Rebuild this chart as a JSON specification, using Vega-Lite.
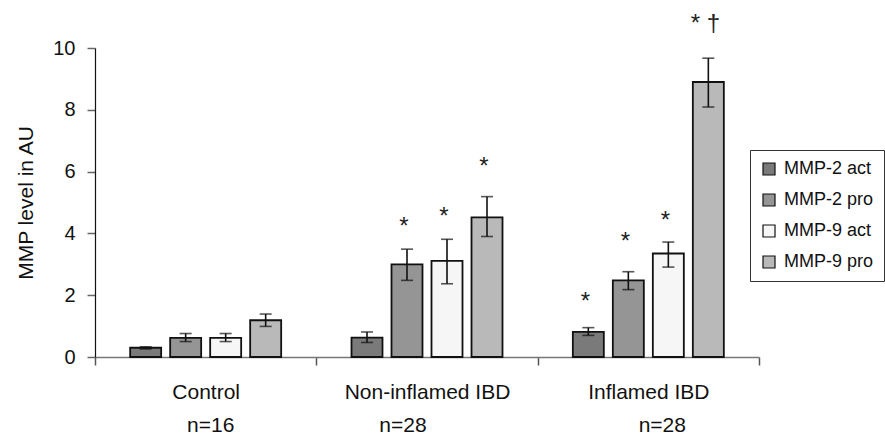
{
  "$schema": "https://vega.github.io/schema/vega-lite/v6.json",
  "width": 664,
  "height": 309,
  "autosize": {"type": "none"},
  "padding": {"left": 95, "top": 48, "right": 126, "bottom": 78},
  "background": "white",
  "config": {
    "view": {"stroke": null},
    "font": "Liberation Sans",
    "text": {"font": "Liberation Sans", "color": "#111111"}
  },
  "datasets": {
    "bars": [
      {"group": "Control", "series": "MMP-2 act", "value": 0.30, "lo": 0.26, "hi": 0.33},
      {"group": "Control", "series": "MMP-2 pro", "value": 0.62, "lo": 0.50, "hi": 0.76},
      {"group": "Control", "series": "MMP-9 act", "value": 0.62, "lo": 0.50, "hi": 0.76},
      {"group": "Control", "series": "MMP-9 pro", "value": 1.19, "lo": 0.99, "hi": 1.39},
      {"group": "Non-inflamed IBD", "series": "MMP-2 act", "value": 0.63, "lo": 0.47, "hi": 0.81},
      {"group": "Non-inflamed IBD", "series": "MMP-2 pro", "value": 3.0, "lo": 2.48, "hi": 3.49},
      {"group": "Non-inflamed IBD", "series": "MMP-9 act", "value": 3.11, "lo": 2.37, "hi": 3.81},
      {"group": "Non-inflamed IBD", "series": "MMP-9 pro", "value": 4.52, "lo": 3.9, "hi": 5.19},
      {"group": "Inflamed IBD", "series": "MMP-2 act", "value": 0.81, "lo": 0.70, "hi": 0.95},
      {"group": "Inflamed IBD", "series": "MMP-2 pro", "value": 2.48, "lo": 2.18, "hi": 2.76},
      {"group": "Inflamed IBD", "series": "MMP-9 act", "value": 3.35, "lo": 2.91, "hi": 3.72},
      {"group": "Inflamed IBD", "series": "MMP-9 pro", "value": 8.9, "lo": 8.09, "hi": 9.67}
    ],
    "stars": [
      {"group": "Non-inflamed IBD", "series": "MMP-2 pro", "pos": 4.42, "label": "*"},
      {"group": "Non-inflamed IBD", "series": "MMP-9 act", "pos": 4.77, "label": "*"},
      {"group": "Non-inflamed IBD", "series": "MMP-9 pro", "pos": 6.37, "label": "*"},
      {"group": "Inflamed IBD", "series": "MMP-2 act", "pos": 2.0, "label": "*"},
      {"group": "Inflamed IBD", "series": "MMP-2 pro", "pos": 3.94, "label": "*"},
      {"group": "Inflamed IBD", "series": "MMP-9 act", "pos": 4.64, "label": "*"},
      {"group": "Inflamed IBD", "series": "MMP-9 pro", "pos": 11.0, "label": "* †"}
    ]
  },
  "encoding": {
    "x": {
      "field": "group",
      "type": "nominal",
      "scale": {"domain": ["Control", "Non-inflamed IBD", "Inflamed IBD"], "paddingInner": 0, "paddingOuter": 0},
      "axis": {
        "title": null,
        "labelAngle": 0,
        "labelFontSize": 21,
        "labelColor": "#111111",
        "labelPadding": 16,
        "tickBand": "extent",
        "tickSize": 8,
        "tickColor": "#555555",
        "tickWidth": 1.5,
        "domainColor": "#777777",
        "domainWidth": 1.5
      }
    }
  },
  "layer": [
    {
      "data": {"name": "bars"},
      "mark": {"type": "bar", "stroke": "#111111", "strokeWidth": 1.8},
      "encoding": {
        "xOffset": {
          "field": "series",
          "type": "nominal",
          "scale": {"domain": ["MMP-2 act", "MMP-2 pro", "MMP-9 act", "MMP-9 pro"], "paddingInner": 0.225, "paddingOuter": 0.879}
        },
        "y": {
          "field": "value",
          "type": "quantitative",
          "scale": {"domain": [0, 10], "nice": false, "zero": true},
          "axis": {
            "title": "MMP level in AU",
            "titleFontSize": 21,
            "titleFontWeight": "normal",
            "titleColor": "#111111",
            "titlePadding": 16,
            "values": [0, 2, 4, 6, 8, 10],
            "labelFontSize": 20,
            "labelColor": "#111111",
            "labelPadding": 12,
            "tickSize": 8,
            "tickColor": "#666666",
            "tickWidth": 1.5,
            "domainColor": "#111111",
            "domainWidth": 1.2,
            "grid": false
          }
        },
        "fill": {
          "field": "series",
          "type": "nominal",
          "scale": {"domain": ["MMP-2 act", "MMP-2 pro", "MMP-9 act", "MMP-9 pro"], "range": ["#7a7a7a", "#959595", "#f6f6f6", "#b9b9b9"]},
          "legend": {
            "title": null,
            "orient": "none",
            "legendX": 655,
            "legendY": 102,
            "fillColor": "white",
            "strokeColor": "#333333",
            "padding": 10,
            "symbolType": "square",
            "symbolSize": 144,
            "symbolStrokeColor": "#111111",
            "symbolStrokeWidth": 1.2,
            "labelFontSize": 18,
            "labelColor": "#111111",
            "labelOffset": 6,
            "rowPadding": 13
          }
        }
      }
    },
    {
      "data": {"name": "bars"},
      "mark": {"type": "rule", "color": "#111111", "strokeWidth": 1.6},
      "encoding": {
        "xOffset": {"field": "series", "type": "nominal"},
        "y": {"field": "lo", "type": "quantitative"},
        "y2": {"field": "hi"}
      }
    },
    {
      "data": {"name": "bars"},
      "mark": {"type": "tick", "orient": "horizontal", "color": "#111111", "size": 12, "thickness": 1.6},
      "encoding": {
        "xOffset": {"field": "series", "type": "nominal"},
        "y": {"field": "hi", "type": "quantitative"}
      }
    },
    {
      "data": {"name": "bars"},
      "mark": {"type": "tick", "orient": "horizontal", "color": "#111111", "size": 12, "thickness": 1.6},
      "encoding": {
        "xOffset": {"field": "series", "type": "nominal"},
        "y": {"field": "lo", "type": "quantitative"}
      }
    },
    {
      "data": {"name": "stars"},
      "mark": {"type": "text", "fontSize": 24, "baseline": "middle", "align": "center", "dy": 7, "dx": -3, "color": "#222222"},
      "encoding": {
        "xOffset": {"field": "series", "type": "nominal"},
        "y": {"field": "pos", "type": "quantitative"},
        "text": {"field": "label"}
      }
    },
    {
      "data": {"values": [{"group": "Control", "n": "n=16", "pos": -2.43}]},
      "mark": {"type": "text", "fontSize": 21, "baseline": "alphabetic", "align": "center", "dx": 5},
      "encoding": {"y": {"field": "pos", "type": "quantitative"}, "text": {"field": "n"}}
    },
    {
      "data": {"values": [{"group": "Non-inflamed IBD", "n": "n=28", "pos": -2.43}]},
      "mark": {"type": "text", "fontSize": 21, "baseline": "alphabetic", "align": "center", "dx": -24},
      "encoding": {"y": {"field": "pos", "type": "quantitative"}, "text": {"field": "n"}}
    },
    {
      "data": {"values": [{"group": "Inflamed IBD", "n": "n=28", "pos": -2.43}]},
      "mark": {"type": "text", "fontSize": 21, "baseline": "alphabetic", "align": "center", "dx": 14},
      "encoding": {"y": {"field": "pos", "type": "quantitative"}, "text": {"field": "n"}}
    }
  ]
}
